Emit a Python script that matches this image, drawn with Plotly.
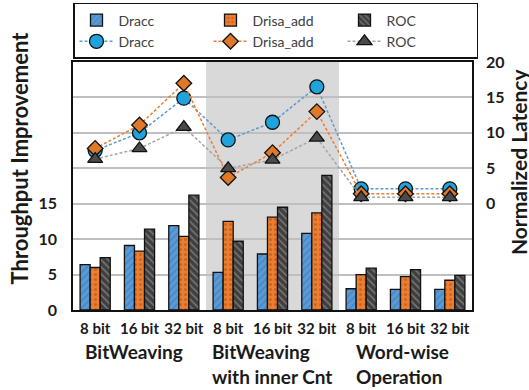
import plotly.graph_objects as go

categories = ["8 bit", "16 bit", "32 bit", "8 bit", "16 bit", "32 bit", "8 bit", "16 bit", "32 bit"]
groups = ["BitWeaving", "BitWeaving<br>with inner Cnt", "Word-wise<br>Operation"]

thr_dracc = [6.4, 9.1, 11.9, 5.3, 7.9, 10.8, 3.0, 2.9, 2.9]
thr_drisa = [6.0, 8.3, 10.4, 12.5, 13.1, 13.7, 5.0, 4.7, 4.2]
thr_roc = [7.4, 11.4, 16.2, 9.7, 14.5, 19.0, 5.9, 5.7, 4.9]

lat_dracc = [7.5, 10.0, 14.9, 9.0, 11.5, 16.5, 2.1, 2.1, 2.1]
lat_drisa = [7.8, 11.1, 17.0, 3.7, 7.2, 13.0, 1.4, 1.4, 1.4]
lat_roc = [6.3, 7.8, 10.8, 5.0, 6.2, 9.3, 0.9, 0.9, 0.9]

x = list(range(len(categories)))
FONT = "Lato, Open Sans, sans-serif"
TXT = "#1a1a1a"

fig = go.Figure()

bar_specs = [
    ("Dracc", thr_dracc, "#5b9bd5", "#2f6fb0", "/"),
    ("Drisa_add", thr_drisa, "#ed7d31", "#a84d10", "."),
    ("ROC", thr_roc, "#3f3f3f", "#b0b0b0", "\\"),
]
for name, vals, col, fg, shp in bar_specs:
    fig.add_trace(go.Bar(
        x=x, y=vals, name=name,
        marker=dict(color=col, line=dict(color="#111", width=1.3),
                    pattern=dict(shape=shp, fgcolor=fg, fillmode="overlay", size=5, solidity=0.3)),
        yaxis="y",
    ))

line_specs = [
    ("Dracc", lat_dracc, "#5b9bd5", "#1ea3dc", "circle", 14),
    ("Drisa_add", lat_drisa, "#ed7d31", "#e0782a", "diamond", 12),
    ("ROC", lat_roc, "#a5a5a5", "#4a4a4a", "triangle-up", 13),
]
for name, vals, lc, mc, sym, sz in line_specs:
    fig.add_trace(go.Scatter(
        x=x, y=vals, name=name, mode="lines+markers",
        line=dict(color=lc, width=1.5, dash="3px,2px"),
        marker=dict(symbol=sym, size=sz, color=mc, line=dict(color="#111", width=1.3)),
        yaxis="y2",
    ))

fig.add_shape(type="rect", xref="x", yref="paper", x0=2.5, x1=5.5, y0=0, y1=1,
              fillcolor="#d9d9d9", line_width=0, layer="below")

# group labels
group_x = [-0.27, 2.59, 5.84]
for gx, g in zip(group_x, groups):
    fig.add_annotation(x=gx, xref="x", y=-0.113, yref="paper", text=g, showarrow=False,
                       xanchor="left", yanchor="top", align="left",
                       font=dict(family=FONT, size=19, color=TXT, weight="bold"))

fig.add_annotation(x=-0.134, xref="paper", y=0.613, yref="paper", text="Throughput Improvement",
                   textangle=-90, showarrow=False, xanchor="center", yanchor="middle",
                   font=dict(family=FONT, size=22, color=TXT, weight="bold"))
fig.add_annotation(x=1.115, xref="paper", y=0.60, yref="paper", text="Normalized Latency",
                   textangle=-90, showarrow=False, xanchor="center", yanchor="middle",
                   font=dict(family=FONT, size=21, color=TXT, weight="bold"))

left_ticks = [0, 5, 10, 15, 20, 25, 30, 35]
left_text = ["0", "5", "10", "15", "", "", "", ""]
right_ticks = [0, 5, 10, 15, 20]

fig.update_layout(
    width=529, height=390,
    margin=dict(l=73, r=57, t=62, b=80, autoexpand=False),
    paper_bgcolor="white", plot_bgcolor="white",
    barmode="group", bargap=0.32, bargroupgap=0.0,
    showlegend=True,
    legend=dict(orientation="h", x=0, xanchor="left", y=1.238, yanchor="top",
                bordercolor="#111", borderwidth=1.5, bgcolor="white",
                entrywidth=85, entrywidthmode="pixels", itemwidth=34,
                font=dict(family=FONT, size=14, color="#404040"),
                tracegroupgap=0),
    xaxis=dict(tickmode="array", tickvals=x, ticktext=categories, range=[-0.5, 8.5],
               showgrid=False, zeroline=False, showline=True, linecolor="#111", linewidth=1.5,
               mirror=True, ticks="", ticklabelstandoff=4,
               tickfont=dict(family=FONT, size=15, color=TXT, weight="bold")),
    yaxis=dict(range=[0, 35], tickmode="array", tickvals=left_ticks, ticktext=left_text,
               showgrid=True, gridcolor="#bfbfbf", gridwidth=1.5, zeroline=False,
               showline=True, linecolor="#111", linewidth=1.5, mirror=True, ticks="",
               ticklabelstandoff=11,
               tickfont=dict(family=FONT, size=16, color=TXT, weight="bold")),
    yaxis2=dict(range=[-15, 20], overlaying="y", side="right", tickmode="array",
                tickvals=right_ticks, showgrid=False, zeroline=False, ticks="",
                ticklabelstandoff=13,
                tickfont=dict(family=FONT, size=16, color=TXT, weight="bold")),
)

# remove the browser's default 8px page margin so the figure fills the window
fig.write_html("out.html", config={"displayModeBar": False},
               post_script="document.body.style.margin='0px';")
